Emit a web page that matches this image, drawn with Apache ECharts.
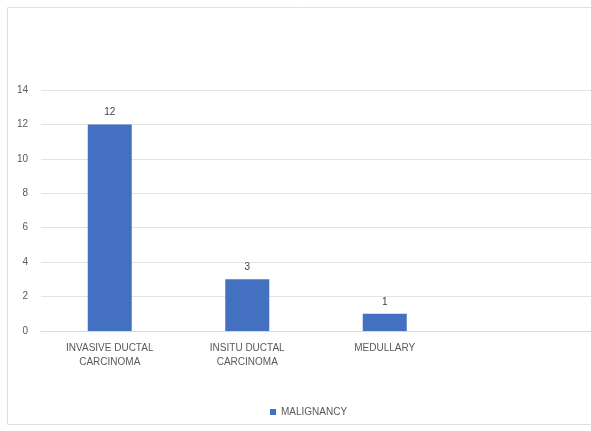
<!DOCTYPE html>
<html><head><meta charset="utf-8">
<script src="https://cdn.jsdelivr.net/npm/echarts@6/dist/echarts.min.js"></script>
<style>html,body{margin:0;padding:0;background:#fff}#c{width:591px;height:431px}</style>
</head><body><div id="c"></div>
<script>
const categories = ["INVASIVE DUCTAL\nCARCINOMA", "INSITU DUCTAL\nCARCINOMA", "MEDULLARY", ""];
const malignancy = [12, 3, 1, null];
const seriesName = "MALIGNANCY";
const yTicks = {min: 0, max: 14, interval: 2};

const chart = echarts.init(document.getElementById('c'), null, {renderer: 'canvas'});
const font = "'Liberation Sans', Arial, sans-serif";
chart.setOption({
  animation: false,
  backgroundColor: '#fff',
  graphic: [{
    type: 'rect', silent: true,
    shape: {x: 7.5, y: 7.5, width: 600, height: 417},
    style: {fill: 'none', stroke: '#e0e0e0', lineWidth: 1}
  }],
  grid: {left: 41, top: 90, width: 556, bottom: 100},
  legend: {
    bottom: 9, left: 265, itemWidth: 6, itemHeight: 6, itemGap: 4,
    icon: 'rect',
    textStyle: {fontFamily: font, fontSize: 10, color: '#595959'},
    data: [seriesName]
  },
  xAxis: {
    type: 'category', data: categories,
    axisLine: {show: true, lineStyle: {color: '#d9d9d9'}},
    axisTick: {show: false},
    axisLabel: {interval: 0, fontFamily: font, fontSize: 10, color: '#595959', lineHeight: 14, margin: 10}
  },
  yAxis: {
    type: 'value', min: yTicks.min, max: yTicks.max, interval: yTicks.interval,
    axisLine: {show: false}, axisTick: {show: false},
    splitLine: {lineStyle: {color: '#e3e3e3'}},
    axisLabel: {fontFamily: font, fontSize: 10, color: '#595959', margin: 13}
  },
  series: [{
    name: seriesName, type: 'bar', data: malignancy, barWidth: 44,
    itemStyle: {color: '#4470C2'},
    label: {show: true, position: 'top', distance: 7, fontFamily: font, fontSize: 10, color: '#404040'}
  }]
});
</script></body></html>
